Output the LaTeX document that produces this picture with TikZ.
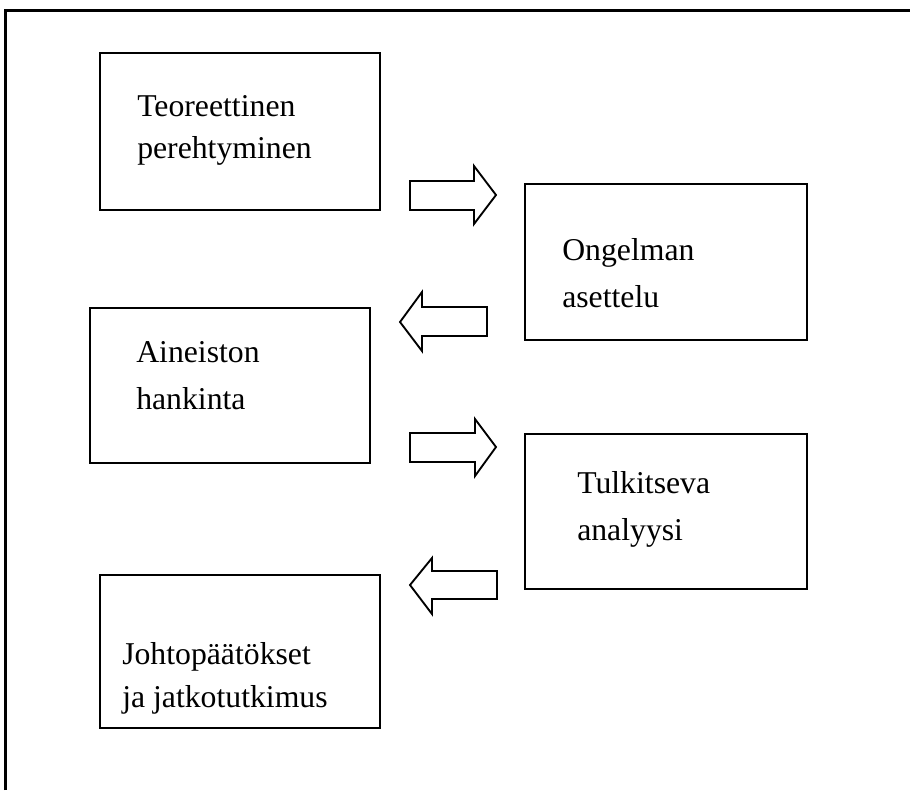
\documentclass[tikz,border=0pt]{standalone}
\usepackage{fontspec}
\setmainfont{Liberation Serif}
\begin{document}
\begin{tikzpicture}[x=0.75pt,y=-0.75pt,
  stagebox/.style={draw,line width=1.5pt,inner sep=0pt},
  blockarrow/.style={draw,line width=1.4pt,line join=miter,fill=white},
  label/.style={anchor=base west,inner sep=0pt,font=\fontsize{23.8}{28}\selectfont}]
\useasboundingbox (0,0) rectangle (910,790);
% open frame: top and left sides only
\draw[line width=2.2pt] (5.7,790) -- (5.7,10.5) -- (910,10.5);

% stage boxes
\node[stagebox,minimum width=280*0.75pt,minimum height=157*0.75pt] (teo) at (240,131.5) {};
\node[stagebox,minimum width=282*0.75pt,minimum height=156*0.75pt] (ong) at (666,262) {};
\node[stagebox,minimum width=280*0.75pt,minimum height=155*0.75pt] (ain) at (230,385) {};
\node[stagebox,minimum width=282*0.75pt,minimum height=155*0.75pt] (tul) at (666,511.5) {};
\node[stagebox,minimum width=280*0.75pt,minimum height=153*0.75pt] (joh) at (240,651.5) {};

% texts
\node[label] (t1a) at (137,116) {Teoreettinen};
\node[label] (t1b) at (137,158) {perehtyminen};
\node[label] (t2a) at (562,260) {Ongelman};
\node[label] (t2b) at (562,307) {asettelu};
\node[label] (t3a) at (136,362) {Aineiston};
\node[label] (t3b) at (136,409) {hankinta};
\node[label] (t4a) at (577,493) {Tulkitseva};
\node[label] (t4b) at (577,540) {analyysi};
\node[label] (t5a) at (122,664) {Johtopäätökset};
\node[label] (t5b) at (122,707) {ja jatkotutkimus};

% block arrows between stages
\draw[blockarrow] (410,181) -- (474,181) -- (474,166) -- (496,195) -- (474,224) -- (474,210) -- (410,210) -- cycle;
\draw[blockarrow] (487,307) -- (422,307) -- (422,292) -- (400,322) -- (422,351) -- (422,336) -- (487,336) -- cycle;
\draw[blockarrow] (410,433) -- (475,433) -- (475,419) -- (496,447) -- (475,476) -- (475,462) -- (410,462) -- cycle;
\draw[blockarrow] (497,571) -- (432,571) -- (432,558) -- (410,585) -- (432,614) -- (432,599) -- (497,599) -- cycle;
\end{tikzpicture}
\end{document}
